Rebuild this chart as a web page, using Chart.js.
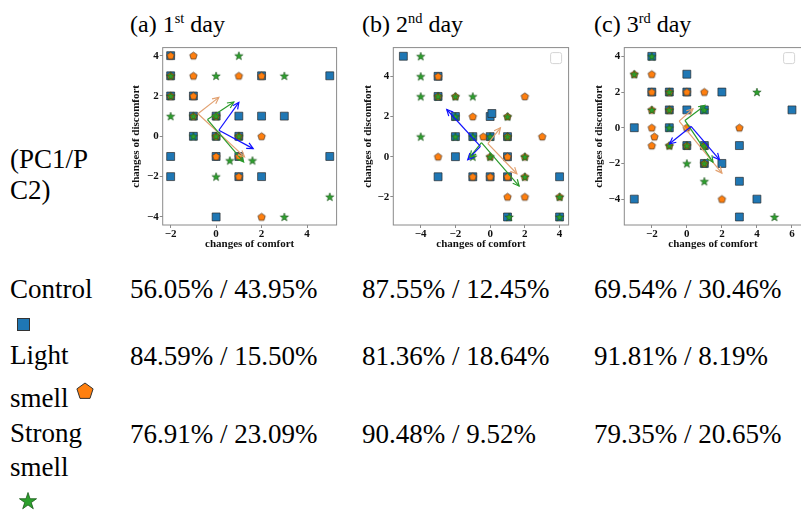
<!DOCTYPE html>
<html>
<head>
<meta charset="utf-8">
<script src="https://cdn.jsdelivr.net/npm/chart.js@4.4.0/dist/chart.umd.min.js"></script>
<style>
html, body { margin: 0; padding: 0; background: #fff; overflow: hidden; }
body { width: 801px; height: 512px; position: relative; font-family: "Liberation Serif", "Times New Roman", serif; color: #000; }
.t { position: absolute; font-size: 27px; line-height: 27px; white-space: nowrap; }
.title { position: absolute; font-size: 24px; line-height: 24px; white-space: nowrap; }
.title sup { font-size: 0.6em; vertical-align: 0.6em; line-height: 0; }
canvas, svg { position: absolute; }
</style>
</head>
<body>

<div class="title" style="left:130px;top:12px">(a) 1<sup>st</sup> day</div>
<div class="title" style="left:362px;top:12px">(b) 2<sup>nd</sup> day</div>
<div class="title" style="left:594px;top:12px">(c) 3<sup>rd</sup> day</div>

<canvas id="chartA" width="225" height="212" style="left:118px;top:40px"></canvas>
<canvas id="chartB" width="227" height="212" style="left:348px;top:40px"></canvas>
<canvas id="chartC" width="229" height="212" style="left:579px;top:40px"></canvas>

<div class="t" style="left:10px;top:146px">(PC1/P</div>
<div class="t" style="left:10px;top:177px">C2)</div>

<div class="t" style="left:10px;top:276px">Control</div>
<svg style="left:17px;top:318px" width="13" height="13"><rect x="0.5" y="0.5" width="12" height="12" fill="#1f77b4" stroke="#333" stroke-width="1"/></svg>
<div class="t" style="left:10px;top:342px">Light</div>
<div class="t" style="left:10px;top:385px">smell</div>
<svg style="left:76px;top:382px" width="18" height="18"><polygon points="9,1 17.08,6.87 14,16.38 4,16.38 0.92,6.87" fill="#ff7f0e" stroke="#333" stroke-width="1"/></svg>
<div class="t" style="left:10px;top:420px">Strong</div>
<div class="t" style="left:10px;top:454px">smell</div>
<svg style="left:18px;top:491px" width="20" height="20"><polygon points="10,1.5 12.02,7.72 18.56,7.72 13.27,11.56 15.29,17.78 10,13.94 4.71,17.78 6.73,11.56 1.44,7.72 7.98,7.72" fill="#2ca02c" stroke="#1a5a1a" stroke-width="0.8"/></svg>

<script>
// explained variance (PC1 / PC2) per group, per day
const controlPC = ['56.05% / 43.95%', '87.55% / 12.45%', '69.54% / 30.46%'];
const lightPC = ['84.59% / 15.50%', '81.36% / 18.64%', '91.81% / 8.19%'];
const strongPC = ['76.91% / 23.09%', '90.48% / 9.52%', '79.35% / 20.65%'];

// day 1 scores (changes of comfort, changes of discomfort)
const controlA = [[-2,4],[-2,3],[2,3],[5,3],[-2,2],[-1,2],[-1,1],[0,1],[1,1],[2,1],[3,1],[-1,0],[0,0],[1,0],[-2,-1],[0,-1],[1,-1],[5,-1],[-2,-2],[1,-2],[2,-2],[0,-4]];
const lightA = [[-2,4],[-1,4],[-2,3],[-1,3],[1,3],[2,3],[-2,2],[-1,2],[-1,1],[0,1],[0,0],[1,0],[2,0],[0,-1],[1,-1],[1,-2],[2,-4]];
const strongA = [[1,4],[-2,3],[0,3],[3,3],[-2,2],[-2,1],[-1,1],[0,1],[-1,0],[0,0],[1,0],[0.6,-1.2],[1.6,-1.2],[0,-2],[5,-3],[3,-4]];
// day 2
const controlB = [[-5,5],[-3,4],[-3,3],[-2,2],[0,2],[0.1,2.15],[-2,1],[-1,1],[0,1],[1,1],[-2,0],[1,0],[-3,-1],[-1,-1],[0,-1],[1,-1],[4,-1],[1,-3],[4,-3]];
const lightB = [[-3,4],[-3,3],[-2,3],[2,3],[-1,2],[1,2],[-0.4,1],[1,1],[3,1],[-3,0],[0,0],[1,0],[2,0],[-1,-1],[0,-1],[1,-1],[2,-1],[1,-2],[2,-2],[4,-2]];
const strongB = [[-4,5],[-4,4],[-4,3],[-3,3],[-2,3],[-1,3],[-2,2],[1,2],[-4,1],[-2,1],[-1,1],[0,1],[1,1],[-1,0],[0,0],[2,0],[2,-1],[4,-2],[1.1,-3],[4,-3]];
// day 3
const controlC = [[-2,4],[0,3],[-2,2],[-1,2],[0,2],[2,2],[-1,1],[0,1],[1,1],[6,1],[-3,0],[-1,0],[0,-1],[1,-1],[3,-1],[1,-2],[2,-2],[3,-3],[-3,-4],[4,-4],[3,-5]];
const lightC = [[-3,3],[-2,3],[-2,2],[-1,2],[0,2],[1,2],[-2,1],[-1,1],[-2,0],[0,0],[3,0],[-1.85,-0.5],[-2,-1],[-1,-1],[0,-1],[1,-1],[1,-2],[2,-4]];
const strongC = [[-2,4],[-3,3],[-1,2],[4,2],[-2,1],[-1,1],[1,1],[-1,0],[-1,-1],[0,-1],[1,-1],[0,-2],[1,-2],[1,-3],[5,-5]];

// loading arrows [x0, y0, x1, y1]
const controlArrowsA = [[0.12,0.30,1.0,1.68],[0.12,0.30,1.63,-0.61]];
const strongArrowsA = [[-0.38,0.83,0.78,1.70],[-0.38,0.83,1.21,-1.27]];
const lightArrowsA = [[-0.80,1.12,0.12,1.93],[-0.80,1.12,1.25,-1.02]];
const controlArrowsB = [[-0.56,0.51,-2.5,2.35],[-0.56,0.51,-1.29,-0.15]];
const strongArrowsB = [[-0.5,0.70,-1.17,-0.02],[-0.5,0.70,1.67,-1.46]];
const lightArrowsB = [[-0.13,0.65,0.59,1.44],[-0.13,0.65,1.54,-0.85]];
const controlArrowsC = [[0.24,0.07,-0.99,-0.9],[0.24,0.07,1.86,-1.79]];
const strongArrowsC = [[-0.11,0.41,1.03,1.25],[-0.11,0.41,1.49,-1.93]];
const lightArrowsC = [[-0.44,0.37,0.35,1.06],[-0.44,0.37,2.0,-2.54]];

// axis ranges and ticks
const xRangeA = [-2.35, 5.3], yRangeA = [-4.4, 4.4];
const xRangeB = [-5.58, 4.52], yRangeB = [-3.4, 5.43];
const xRangeC = [-3.57, 6.55], yRangeC = [-5.45, 4.49];
const xTicksA = [-2, 0, 2, 4], yTicksA = [-4, -2, 0, 2, 4];
const xTicksB = [-4, -2, 0, 2, 4], yTicksB = [-2, 0, 2, 4];
const xTicksC = [-2, 0, 2, 4, 6], yTicksC = [-4, -2, 0, 2, 4];

// table text
const colX = [130, 362, 594];
const rowTop = [276, 343, 421];
[controlPC, lightPC, strongPC].forEach(function (row, r) {
    row.forEach(function (txt, c) {
        let d = document.createElement('div');
        d.className = 't';
        d.style.left = colX[c] + 'px';
        d.style.top = rowTop[r] + 'px';
        d.textContent = txt;
        document.body.appendChild(d);
    });
});

// marker images
function makePentagon(r) {
    const s = Math.ceil(r * 2 + 3);
    const c = document.createElement('canvas');
    c.width = s; c.height = s;
    const ctx = c.getContext('2d');
    ctx.beginPath();
    for (let k = 0; k < 5; k++) {
        const a = -Math.PI / 2 + k * 2 * Math.PI / 5;
        ctx.lineTo(s / 2 + r * Math.cos(a), s / 2 + 0.3 + r * Math.sin(a));
    }
    ctx.closePath();
    ctx.fillStyle = '#ff7f0e';
    ctx.fill();
    ctx.strokeStyle = 'rgba(50,40,30,0.8)';
    ctx.lineWidth = 0.8;
    ctx.stroke();
    return c;
}
function makeStar(r) {
    const s = Math.ceil(r * 2 + 3);
    const c = document.createElement('canvas');
    c.width = s; c.height = s;
    const ctx = c.getContext('2d');
    ctx.beginPath();
    for (let k = 0; k < 10; k++) {
        const a = -Math.PI / 2 + k * Math.PI / 5;
        const rr = k % 2 ? r * 0.4 : r;
        ctx.lineTo(s / 2 + rr * Math.cos(a), s / 2 + 0.4 + rr * Math.sin(a));
    }
    ctx.closePath();
    ctx.fillStyle = '#2ca02c';
    ctx.fill();
    ctx.strokeStyle = 'rgba(20,70,20,0.9)';
    ctx.lineWidth = 0.6;
    ctx.stroke();
    return c;
}
const pentImg = makePentagon(3.9);
const starImg = makeStar(4.4);

const arrowColors = {control: '#1010ff', strong: '#2a9a2a', light: '#e2a272'};
const tickFont = {family: "'Liberation Serif', serif", size: 11, weight: 'bold'};

const arrowHeads = {
    id: 'arrowHeads',
    afterDatasetsDraw(chart) {
        const {ctx, scales: {x, y}} = chart;
        chart.data.datasets.forEach(function (ds) {
            if (!ds.isArrow) return;
            const p0 = ds.data[0], p1 = ds.data[1];
            const x0 = x.getPixelForValue(p0.x), y0 = y.getPixelForValue(p0.y);
            const x1 = x.getPixelForValue(p1.x), y1 = y.getPixelForValue(p1.y);
            const a = Math.atan2(y1 - y0, x1 - x0);
            ctx.save();
            ctx.strokeStyle = ds.borderColor;
            ctx.lineWidth = ds.borderWidth;
            ctx.beginPath();
            ctx.moveTo(x1 - 7 * Math.cos(a - 0.45), y1 - 7 * Math.sin(a - 0.45));
            ctx.lineTo(x1, y1);
            ctx.lineTo(x1 - 7 * Math.cos(a + 0.45), y1 - 7 * Math.sin(a + 0.45));
            ctx.stroke();
            ctx.restore();
        });
    }
};

const frameBox = {
    id: 'frameBox',
    afterDraw(chart, args, opts) {
        const {ctx, chartArea: a} = chart;
        ctx.save();
        ctx.strokeStyle = '#8a8a8a';
        ctx.lineWidth = 1;
        ctx.strokeRect(a.left, a.top, a.right - a.left, a.bottom - a.top);
        if (opts.emptyLegend) {
            // empty legend box as in the original figure
            const bx = a.right - 18, by = a.top + 5, w = 11;
            ctx.strokeStyle = '#d4d4d4';
            ctx.beginPath();
            ctx.roundRect(bx, by, w, w, 2);
            ctx.stroke();
        }
        ctx.restore();
    }
};

function pts(arr) {
    return arr.map(function (p) { return {x: p[0], y: p[1]}; });
}

function arrowSets(list, color) {
    return list.map(function (a) {
        return {
            isArrow: true,
            data: [{x: a[0], y: a[1]}, {x: a[2], y: a[3]}],
            showLine: true,
            borderColor: color,
            borderWidth: 1.2,
            pointRadius: 0,
            order: 0
        };
    });
}

function makeChart(id, control, light, strong, cArrows, sArrows, lArrows, xRange, yRange, xTicks, yTicks, yAxisW, yTitlePad, emptyLegend) {
    const datasets = []
        .concat(arrowSets(cArrows, arrowColors.control))
        .concat(arrowSets(sArrows, arrowColors.strong))
        .concat(arrowSets(lArrows, arrowColors.light))
        .concat([
            {data: pts(strong), pointStyle: starImg, order: 1},
            {data: pts(light), pointStyle: pentImg, order: 2},
            {data: pts(control), pointStyle: 'rect', pointRadius: 5.6, backgroundColor: '#1f77b4',
                borderColor: 'rgba(40,40,40,0.85)', borderWidth: 0.8, order: 3}
        ]);

    const minus = function (v) { return String(v).replace('-', '\u2212'); };

    return new Chart(document.getElementById(id), {
        type: 'scatter',
        data: {datasets: datasets},
        options: {
            responsive: false,
            animation: false,
            layout: {padding: {top: 7.5, right: 0, left: 0, bottom: 0}},
            plugins: {
                legend: {display: false},
                tooltip: {enabled: false},
                frameBox: {emptyLegend: emptyLegend}
            },
            scales: {
                x: {
                    min: xRange[0], max: xRange[1],
                    afterBuildTicks: function (s) { s.ticks = xTicks.map(function (v) { return {value: v}; }); },
                    afterFit: function (s) { s.height = 27; },
                    grid: {drawOnChartArea: false, drawTicks: true, tickLength: 3, color: '#8a8a8a'},
                    border: {display: false},
                    ticks: {font: tickFont, color: '#111', padding: 0, maxRotation: 0, callback: minus},
                    title: {display: true, text: 'changes of comfort', font: tickFont, color: '#111', padding: {top: 0, bottom: 1.5}}
                },
                y: {
                    min: yRange[0], max: yRange[1],
                    afterBuildTicks: function (s) { s.ticks = yTicks.map(function (v) { return {value: v}; }); },
                    afterFit: function (s) { s.width = yAxisW; },
                    grid: {drawOnChartArea: false, drawTicks: true, tickLength: 3, color: '#8a8a8a'},
                    border: {display: false},
                    ticks: {font: tickFont, color: '#111', padding: 1, callback: minus},
                    title: {display: true, text: 'changes of discomfort', font: tickFont, color: '#111', padding: {top: yTitlePad, bottom: 0}}
                }
            }
        },
        plugins: [arrowHeads, frameBox]
    });
}

makeChart('chartA', controlA, lightA, strongA, controlArrowsA, strongArrowsA, lightArrowsA,
    xRangeA, yRangeA, xTicksA, yTicksA, 44.7, 11.4, false);
makeChart('chartB', controlB, lightB, strongB, controlArrowsB, strongArrowsB, lightArrowsB,
    xRangeB, yRangeB, xTicksB, yTicksB, 45.3, 13.5, true);
makeChart('chartC', controlC, lightC, strongC, controlArrowsC, strongArrowsC, lightArrowsC,
    xRangeC, yRangeC, xTicksC, yTicksC, 45.3, 14, true);
</script>
</body>
</html>
